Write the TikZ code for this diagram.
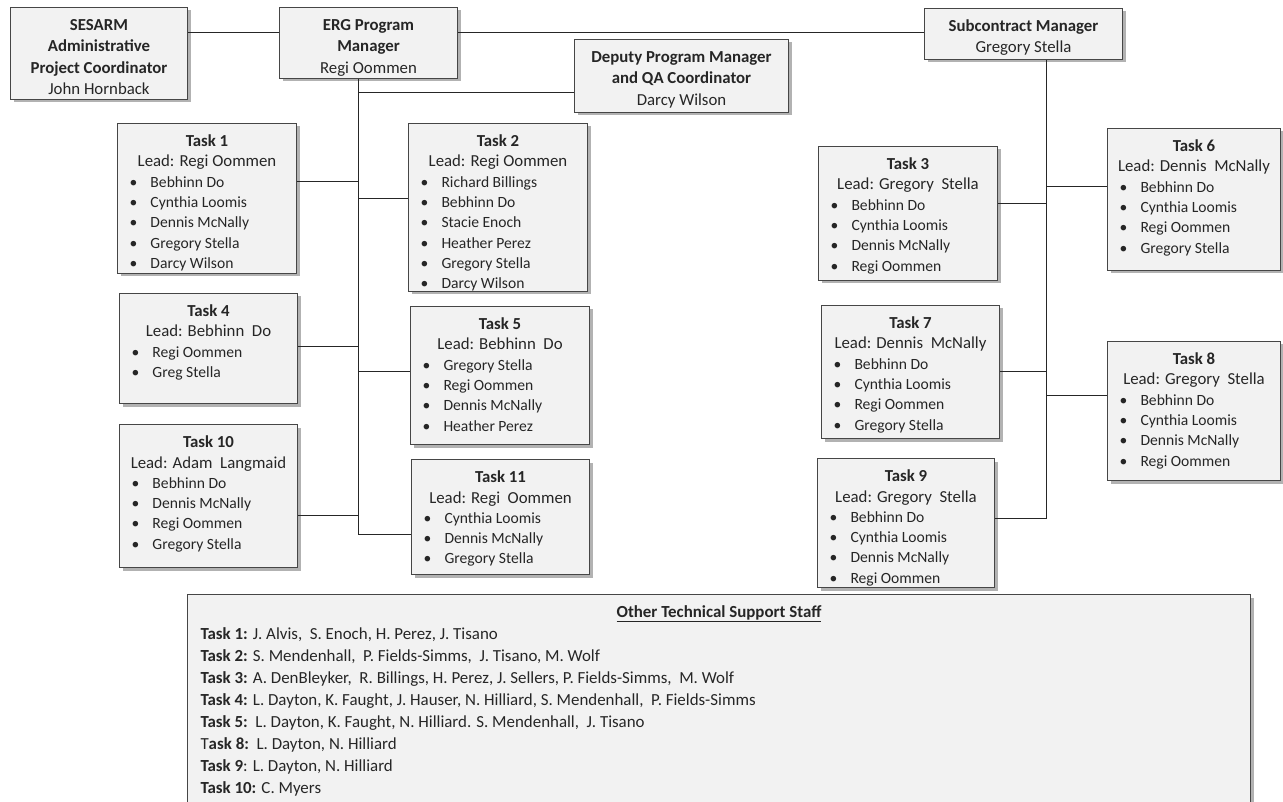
\documentclass[tikz,border=0pt]{standalone}
\usepackage{fontspec}
\setmainfont{Carlito}
\usepackage{tikz}
\usetikzlibrary{shadows}
\definecolor{boxfill}{RGB}{242,242,242}
\definecolor{boxline}{RGB}{70,70,70}
\definecolor{inkcolor}{RGB}{38,38,38}

\newcommand{\itm}[1]{{\fontsize{15.6}{20.3}\selectfont\hspace*{12pt}\makebox[21pt][l]{\textbullet}#1\par}}
\newcommand{\tasktext}[5]{\parbox[t][#2pt][t]{#1pt}{\centering\rule{0pt}{23.2pt}\textbf{#3}\\#4\par\raggedright#5}}
\newcommand{\toptext}[3]{\parbox[t][#2pt][t]{#1pt}{\fontsize{16.8}{21.3}\selectfont\centering\rule{0pt}{23.2pt}#3}}

\begin{document}
\begin{tikzpicture}[
    x=1pt, y=-1pt,
    box/.style={rectangle, draw=boxline, line width=1pt, fill=boxfill, inner sep=0pt,
        anchor=north west, text=inkcolor, font=\fontsize{16.8}{20.3}\selectfont,
        drop shadow={shadow xshift=3pt, shadow yshift=-3pt, fill=black, opacity=0.3}},
    link/.style={draw=black!85, line width=1pt}
]
    \useasboundingbox (0,0) rectangle (1283,802);

    % Management
    \node[box] (sesarm) at (10,7) {\toptext{177}{92}{\textbf{SESARM}\\\textbf{Administrative}\\\textbf{Project Coordinator}\\John Hornback}};
    \node[box] (erg) at (279,7) {\toptext{178}{71}{\textbf{ERG Program}\\\textbf{Manager}\\Regi Oommen}};
    \node[box] (sub) at (924,8) {\toptext{198}{51}{\textbf{Subcontract Manager}\\Gregory Stella}};
    \node[box] (dep) at (574,39) {\toptext{214}{73}{\textbf{Deputy Program Manager}\\\textbf{and QA Coordinator}\\Darcy Wilson}};

    % Tasks under the program manager
    \node[box] (t1) at (117,123) {\tasktext{179}{150}{Task 1}{Lead: Regi Oommen}{\itm{Bebhinn Do}\itm{Cynthia Loomis}\itm{Dennis McNally}\itm{Gregory Stella}\itm{Darcy Wilson}}};
    \node[box] (t2) at (408,123) {\tasktext{179}{168}{Task 2}{Lead: Regi Oommen}{\itm{Richard Billings}\itm{Bebhinn Do}\itm{Stacie Enoch}\itm{Heather Perez}\itm{Gregory Stella}\itm{Darcy Wilson}}};
    \node[box] (t4) at (119,293) {\tasktext{178}{110}{Task 4}{Lead: Bebhinn\ \ Do}{\itm{Regi Oommen}\itm{Greg Stella}}};
    \node[box] (t5) at (410,306) {\tasktext{179}{138}{Task 5}{Lead: Bebhinn\ \ Do}{\itm{Gregory Stella}\itm{Regi Oommen}\itm{Dennis McNally}\itm{Heather Perez}}};
    \node[box] (t10) at (119,424) {\tasktext{178}{143}{Task 10}{Lead: Adam\ \ Langmaid}{\itm{Bebhinn Do}\itm{Dennis McNally}\itm{Regi Oommen}\itm{Gregory Stella}}};
    \node[box] (t11) at (411,459) {\tasktext{178}{115}{Task 11}{Lead: Regi\ \ Oommen}{\itm{Cynthia Loomis}\itm{Dennis McNally}\itm{Gregory Stella}}};

    % Tasks under the subcontract manager
    \node[box] (t3) at (818,146) {\tasktext{179}{134}{Task 3}{Lead: Gregory\ \ Stella}{\itm{Bebhinn Do}\itm{Cynthia Loomis}\itm{Dennis McNally}\itm{Regi Oommen}}};
    \node[box] (t6) at (1107,128) {\tasktext{173}{142}{Task 6}{Lead: Dennis\ \ McNally}{\itm{Bebhinn Do}\itm{Cynthia Loomis}\itm{Regi Oommen}\itm{Gregory Stella}}};
    \node[box] (t7) at (821,305) {\tasktext{178}{133}{Task 7}{Lead: Dennis\ \ McNally}{\itm{Bebhinn Do}\itm{Cynthia Loomis}\itm{Regi Oommen}\itm{Gregory Stella}}};
    \node[box] (t8) at (1107,341) {\tasktext{173}{139}{Task 8}{Lead: Gregory\ \ Stella}{\itm{Bebhinn Do}\itm{Cynthia Loomis}\itm{Dennis McNally}\itm{Regi Oommen}}};
    \node[box] (t9) at (817,458) {\tasktext{177}{129}{Task 9}{Lead: Gregory\ \ Stella}{\itm{Bebhinn Do}\itm{Cynthia Loomis}\itm{Dennis McNally}\itm{Regi Oommen}}};

    % Other staff
    \node[box] (staff) at (187,594) {\parbox[t][230pt][t]{1063pt}{\fontsize{16.9}{22}\selectfont
        \centering\rule{0pt}{22.5pt}\underline{\textbf{Other Technical Support Staff}}\par
        \raggedright\leftskip=13pt
        \textbf{Task 1:} J. Alvis,\ \ S. Enoch, H. Perez, J. Tisano\par
        \textbf{Task 2:} S. Mendenhall,\ \ P. Fields-Simms,\ \ J. Tisano, M. Wolf\par
        \textbf{Task 3:} A. DenBleyker,\ \ R. Billings, H. Perez, J. Sellers, P. Fields-Simms,\ \ M. Wolf\par
        \textbf{Task 4:} L. Dayton, K. Faught, J. Hauser, N. Hilliard, S. Mendenhall,\ \ P. Fields-Simms\par
        \textbf{Task 5:}\ \ L. Dayton, K. Faught, N. Hilliard. S. Mendenhall,\ \ J. Tisano\par
        T\textbf{ask 8:}\ \ L. Dayton, N. Hilliard\par
        \textbf{Task 9}: L. Dayton, N. Hilliard\par
        \textbf{Task 10:} C. Myers\par}};

    % Trunks
    \coordinate (ltrunk) at (358,0);
    \coordinate (rtrunk) at (1046,0);

    \draw[link] (sesarm.east |- 0,33) -- (erg.west |- 0,33);
    \draw[link] (erg.east |- 0,33) -- (sub.west |- 0,33);
    \draw[link] (erg.south -| ltrunk) |- (t11.west |- 0,534);
    \draw[link] (ltrunk |- 0,93) -- (dep.west |- 0,93);
    \draw[link] (t1.east |- 0,182) -- (ltrunk |- 0,182);
    \draw[link] (ltrunk |- 0,199) -- (t2.west |- 0,199);
    \draw[link] (t4.east |- 0,347) -- (ltrunk |- 0,347);
    \draw[link] (ltrunk |- 0,372) -- (t5.west |- 0,372);
    \draw[link] (t10.east |- 0,515) -- (ltrunk |- 0,515);

    \draw[link] (sub.south -| rtrunk) |- (t9.east |- 0,518);
    \draw[link] (t3.east |- 0,204) -- (rtrunk |- 0,204);
    \draw[link] (rtrunk |- 0,187) -- (t6.west |- 0,187);
    \draw[link] (t7.east |- 0,372) -- (rtrunk |- 0,372);
    \draw[link] (rtrunk |- 0,395) -- (t8.west |- 0,395);
\end{tikzpicture}
\end{document}
